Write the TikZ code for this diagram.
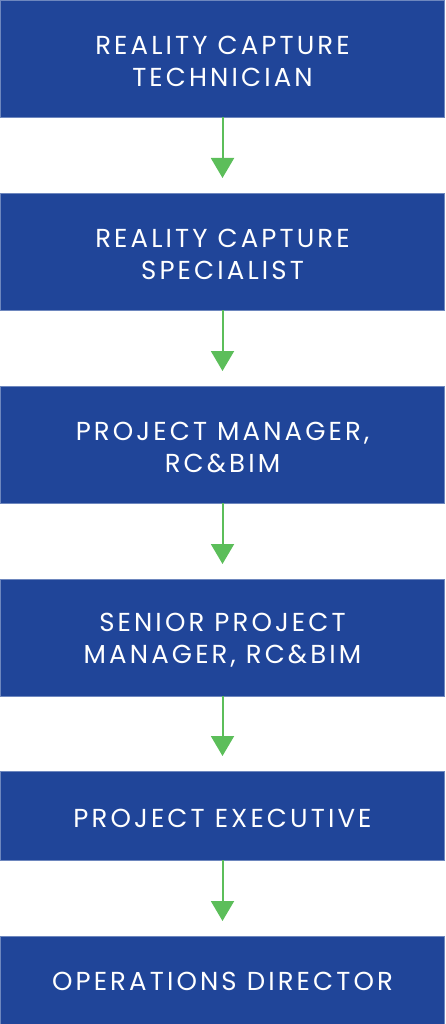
\documentclass[tikz,border=0pt]{standalone}
\usepackage{fontspec}
\setmainfont{Poppins}[LetterSpace=12]
\usetikzlibrary{arrows.meta}
\definecolor{boxblue}{RGB}{32,69,153}
\definecolor{boxedge}{RGB}{110,135,190}
\definecolor{arrgreen}{RGB}{92,190,90}
\tikzset{
  rolebox/.style={rectangle, fill=boxblue, draw=boxedge, line width=0.6pt,
    minimum width=444pt, inner sep=0pt, outer sep=0pt, anchor=north},
  roletext/.style={text=white, align=center, yshift=-3pt,
    font=\fontsize{26}{32}\selectfont},
  flowarrow/.style={draw=arrgreen, line width=2pt, shorten >=15pt,
    -{Triangle[width=23pt,length=20pt]}}
}
\begin{document}
\begin{tikzpicture}[x=1pt,y=1pt]
\useasboundingbox (0,0) rectangle (445,-1024);
\node[rolebox, minimum height=117pt, label={[roletext]center:{REALITY CAPTURE\\TECHNICIAN}}] (b1) at (222.5,0) {};
\node[rolebox, minimum height=117pt, label={[roletext]center:{REALITY CAPTURE\\SPECIALIST}}] (b2) at (222.5,-193) {};
\node[rolebox, minimum height=117pt, label={[roletext]center:{PROJECT MANAGER,\\RC\&BIM}}] (b3) at (222.5,-386) {};
\node[rolebox, minimum height=117pt, label={[roletext]center:{SENIOR PROJECT\\MANAGER, RC\&BIM}}] (b4) at (222.5,-579) {};
\node[rolebox, minimum height=89pt, label={[roletext]center:{PROJECT EXECUTIVE}}] (b5) at (222.5,-771) {};
\node[rolebox, minimum height=89pt, label={[roletext,yshift=2pt]center:{OPERATIONS DIRECTOR}}] (b6) at (222.5,-936) {};
\draw[flowarrow] (b1.south) -- (b2.north);
\draw[flowarrow] (b2.south) -- (b3.north);
\draw[flowarrow] (b3.south) -- (b4.north);
\draw[flowarrow] (b4.south) -- (b5.north);
\draw[flowarrow] (b5.south) -- (b6.north);
\end{tikzpicture}
\end{document}
